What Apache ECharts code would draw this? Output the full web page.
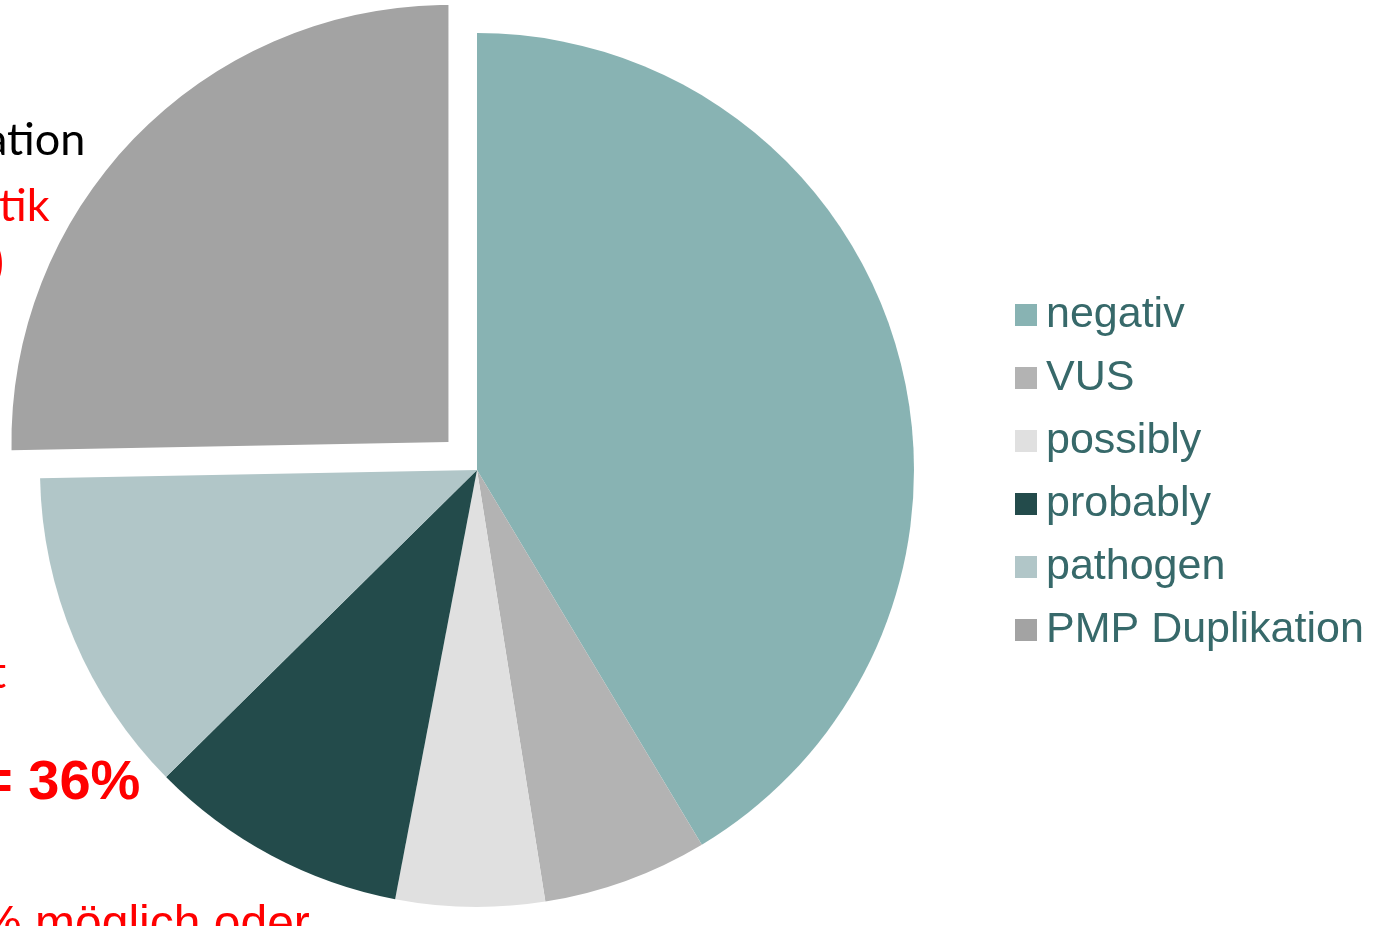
<!DOCTYPE html>
<html>
<head>
    <meta charset="UTF-8">
    <title>Ergebnisse</title>
    <script src="https://cdn.jsdelivr.net/npm/echarts@6/dist/echarts.min.js"></script>
    <style>
        html, body { margin: 0; padding: 0; background: #ffffff; }
    </style>
</head>
<body>
<div id="main" style="width: 1383px; height: 926px;"></div>
<script>
    // Kategorien und Anteile (in %, aus dem Bild abgeschaetzt)
    var categories = ['negativ', 'VUS', 'possibly', 'probably', 'pathogen', 'PMP Duplikation'];
    var values = [41.4, 6.1, 5.5, 9.6, 12.1, 25.3];
    var colors = ['#88b3b3', '#b3b3b3', '#e0e0e0', '#234b4b', '#b1c6c8', '#a3a3a3'];
    // herausgezogenes Segment
    var explodedName = 'PMP Duplikation';

    var chartDom = document.getElementById('main');
    var myChart = echarts.init(chartDom);

    var pieData = categories.map(function (name, i) {
        return {
            name: name,
            value: values[i],
            selected: name === explodedName,
            itemStyle: { color: colors[i] }
        };
    });

    var option = {
        animation: false,
        backgroundColor: '#ffffff',
        legend: {
            orient: 'vertical',
            left: 1015,
            top: 293,
            padding: 0,
            icon: 'rect',
            itemWidth: 22,
            itemHeight: 22,
            itemGap: 19,
            selectedMode: false,
            textStyle: {
                fontFamily: 'Liberation Sans',
                fontSize: 43,
                lineHeight: 44,
                padding: [0, 0, 0, 4],
                color: '#37696a'
            },
            data: categories
        },
        // abgeschnittener Text der Folie am linken Rand
        graphic: [
            { type: 'text', left: -15, top: 118, style: { text: 'ation', fontFamily: 'Lato', fontSize: 45, fill: '#000000' } },
            { type: 'text', left: -1, top: 184, style: { text: 'tik', fontFamily: 'Lato', fontSize: 45, fill: '#ff0000' } },
            { type: 'text', left: -9, top: 240, style: { text: ')', fontFamily: 'Lato', fontSize: 46, fontWeight: 'bold', fill: '#ff0000' } },
            { type: 'text', left: -10, top: 651, style: { text: 't', fontFamily: 'Lato', fontSize: 45, fill: '#ff0000' } },
            { type: 'text', left: -20, top: 756, style: { text: '= 36%', fontFamily: 'Liberation Sans', fontSize: 56, fontWeight: 'bold', fill: '#ff0000' } },
            { type: 'text', left: -21, top: 902, style: { text: '% möglich oder', fontFamily: 'Liberation Sans', fontSize: 48, fill: '#ff0000' } }
        ],
        series: [
            {
                name: 'Ergebnis',
                type: 'pie',
                center: [477, 470],
                radius: [0, 437],
                startAngle: 90,
                clockwise: true,
                selectedMode: 'single',
                selectedOffset: 40,
                label: { show: false },
                labelLine: { show: false },
                emphasis: { disabled: true },
                itemStyle: { borderWidth: 0 },
                data: pieData
            }
        ]
    };

    myChart.setOption(option);
</script>
</body>
</html>
